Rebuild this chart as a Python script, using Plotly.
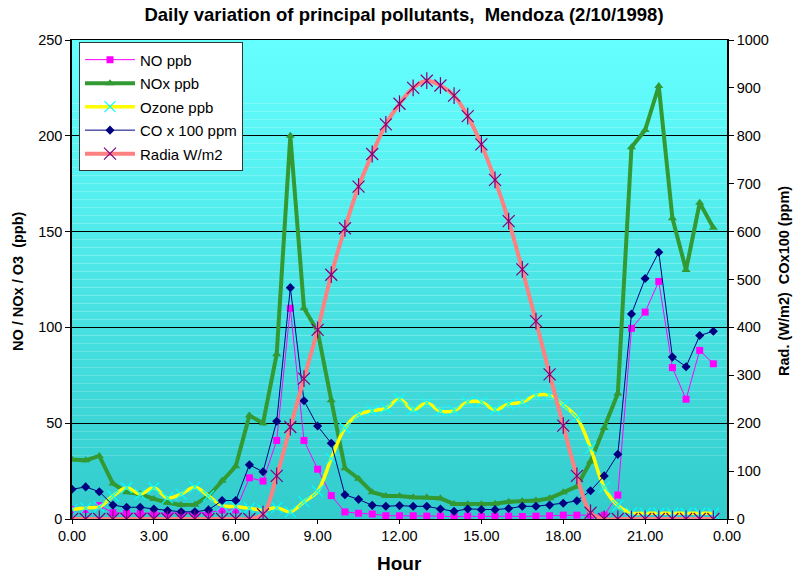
import plotly.graph_objects as go

hours = [0.0, 0.5, 1.0, 1.5, 2.0, 2.5, 3.0, 3.5, 4.0, 4.5, 5.0, 5.5,
         6.0, 6.5, 7.0, 7.5, 8.0, 8.5, 9.0, 9.5, 10.0, 10.5, 11.0, 11.5,
         12.0, 12.5, 13.0, 13.5, 14.0, 14.5, 15.0, 15.5, 16.0, 16.5, 17.0, 17.5,
         18.0, 18.5, 19.0, 19.5, 20.0, 20.5, 21.0, 21.5, 22.0, 22.5, 23.0, 23.5]

no_ppb = [5, 5, 7, 3.3, 3, 3, 3, 3, 3, 3, 3.3, 4.7,
          4.7, 21.5, 19.8, 41, 110, 41, 26, 12.2, 3.7, 3, 2.6, 1.7,
          1.7, 1.7, 1.5, 1.5, 1.2, 1.5, 1.3, 1.5, 1.5, 1.3, 1.5, 1.7,
          2, 2, 2, 2, 12.5, 99.5, 108, 124, 79, 62.5, 88, 81]

nox_ppb = [31, 30.6, 32.9, 18.5, 14, 13, 10.5, 8.5, 7.3, 7.5, 12, 20,
           27.5, 54, 50, 86, 200, 110, 98, 62, 26.5, 21, 14, 12,
           12, 11.3, 11.3, 10.8, 7.8, 7.7, 7.7, 8, 9, 9.4, 9.6, 10.8,
           14, 17, 30, 47.5, 65.5, 194, 203, 226, 157, 130, 165, 152]

ozone_ppb = [5, 5.8, 6.3, 12, 16.3, 13, 16.3, 11, 13, 16.6, 12, 7,
             6.5, 5.6, 4.7, 5.9, 3.8, 9, 14.5, 31.5, 47.5, 54.5, 56.5, 57.8,
             62.5, 57, 60.5, 56.3, 56.6, 61, 61, 57, 60, 61, 64.5, 64.5,
             59.5, 53, 37, 16.5, 7, 3.2, 3, 3, 3, 3, 3, 3]

co_x100 = [62, 67, 57, 29, 24.5, 24.5, 21, 17.5, 15, 15, 19, 38.5,
           38.5, 113, 98.6, 204, 483, 247, 194, 158, 50.5, 41, 28.5, 26.5,
           28, 26.5, 26.5, 21, 16, 21, 19.5, 19.5, 22, 26.5, 26.5, 29,
           33, 38, 59, 90, 135, 428, 502, 557, 338, 318, 383, 392]

radia_wm2 = [0, 0, 0, 0, 0, 0, 0, 0, 0, 0, 0, 0,
             0, 0, 10, 90, 192, 293, 395, 510, 607, 694, 762, 824,
             867, 900, 915, 905, 884, 841, 782, 708, 622, 521, 413, 302,
             195, 90, 13, 0, 0, 0, 0, 0, 0, 0, 0, 0]

tick_vals = [0, 3, 6, 9, 12, 15, 18, 21, 24]
tick_text = ["0.00", "3.00", "6.00", "9.00", "12.00", "15.00", "18.00", "21.00", "0.00"]

FONT = "Liberation Sans, Arial, sans-serif"

fig = go.Figure()

fig.add_trace(go.Scatter(
    x=hours, y=no_ppb, name="NO ppb", mode="lines+markers",
    line=dict(color="#FF00FF", width=1),
    marker=dict(symbol="square", size=7, color="#FF00FF"),
    legendgroup="a", yaxis="y"))

fig.add_trace(go.Scatter(
    x=hours, y=nox_ppb, name="NOx ppb", mode="lines+markers",
    line=dict(color="#339933", width=4),
    marker=dict(symbol="triangle-up", size=8, color="#339933"),
    legendgroup="b", yaxis="y"))

fig.add_trace(go.Scatter(
    x=hours, y=ozone_ppb, name="Ozone ppb", mode="lines+markers",
    line=dict(color="#FFFF00", width=3.5, shape="spline", smoothing=1),
    marker=dict(symbol="x-thin", size=11, color="#00FFFF",
                line=dict(color="#00FFFF", width=1.2)),
    legendgroup="c", yaxis="y"))

fig.add_trace(go.Scatter(
    x=hours, y=co_x100, name="CO x 100 ppm", mode="lines+markers",
    line=dict(color="#000080", width=1),
    marker=dict(symbol="diamond", size=7, color="#000080"),
    legendgroup="d", yaxis="y2"))

fig.add_trace(go.Scatter(
    x=hours, y=radia_wm2, name="Radia W/m2", mode="lines+markers",
    line=dict(color="#FF8080", width=4, shape="spline", smoothing=1),
    marker=dict(symbol="x-thin", size=12, color="#800080",
                line=dict(color="#800080", width=1.2)),
    legendgroup="e", yaxis="y2"))

fig.add_trace(go.Scatter(
    x=hours, y=radia_wm2, name="Radia W/m2", mode="markers",
    marker=dict(symbol="line-ns", size=12, color="#800080",
                line=dict(color="#800080", width=1.2)),
    legendgroup="e", showlegend=False, yaxis="y2"))

# gradient plot-area background
shapes = []
n = 60
top = (102, 255, 255)
bot = (51, 204, 204)
for k in range(n):
    t = k / (n - 1)
    c = tuple(round(bot[j] + (top[j] - bot[j]) * t) for j in range(3))
    shapes.append(dict(type="rect", xref="paper", yref="paper",
                       x0=0, x1=1, y0=k / n, y1=(k + 1) / n,
                       fillcolor="rgb(%d,%d,%d)" % c, line=dict(width=0),
                       layer="below"))

fig.update_layout(
    width=793, height=575, autosize=False,
    margin=dict(l=72, r=66, t=40, b=56),
    paper_bgcolor="white", plot_bgcolor="rgba(0,0,0,0)",
    shapes=shapes,
    font=dict(family=FONT, size=14.5, color="black"),
    title=dict(text="<b>Daily variation of principal pollutants,  Mendoza (2/10/1998)</b>",
               x=(404 - 72) / 655, xref="paper", xanchor="center",
               y=1 - 14.5 / 575, yanchor="middle",
               font=dict(family=FONT, size=18.5, color="black")),
    showlegend=True,
    legend=dict(x=0.0107, y=0.995, xanchor="left", yanchor="top",
                bgcolor="white", bordercolor="#333333", borderwidth=1,
                font=dict(family=FONT, size=15, color="black"),
                traceorder="grouped", tracegroupgap=1, itemwidth=50),
    xaxis=dict(range=[0, 24], tickvals=tick_vals, ticktext=tick_text,
               showgrid=False, zeroline=False, showline=True, mirror=True,
               linecolor="black", linewidth=1, ticks="outside", ticklen=4,
               tickcolor="black", tickfont=dict(family=FONT, size=14.5)),
    yaxis=dict(range=[0, 250], tickvals=[0, 50, 100, 150, 200, 250],
               showgrid=True, gridcolor="black", gridwidth=1, zeroline=False,
               showline=True, linecolor="black", linewidth=1.5,
               ticks="outside", ticklen=5, tickcolor="black",
               tickfont=dict(family=FONT, size=14.5)),
    yaxis2=dict(range=[0, 1000], tickvals=[0, 100, 200, 300, 400, 500, 600, 700, 800, 900, 1000],
                overlaying="y", side="right", showgrid=False, zeroline=False,
                showline=True, linecolor="black", linewidth=1.5,
                ticks="outside", ticklen=5, tickcolor="black",
                tickfont=dict(family=FONT, size=14.5)),
    annotations=[
        dict(text="<b>NO / NOx / O3  (ppb)</b>", xref="paper", yref="paper",
             x=(18 - 72) / 655, y=(519 - 281) / 479, textangle=-90, showarrow=False,
             xanchor="center", yanchor="middle",
             font=dict(family=FONT, size=14.5, color="black")),
        dict(text="<b>Rad. (W/m2)  COx100 (ppm)</b>", xref="paper", yref="paper",
             x=(784 - 72) / 655, y=(519 - 281) / 479, textangle=-90, showarrow=False,
             xanchor="center", yanchor="middle",
             font=dict(family=FONT, size=14.5, color="black")),
        dict(text="<b>Hour</b>", xref="paper", yref="paper",
             x=(399 - 72) / 655, y=(519 - 563) / 479, showarrow=False,
             xanchor="center", yanchor="middle",
             font=dict(family=FONT, size=19, color="black")),
    ],
)

fig.write_html("out.html")
